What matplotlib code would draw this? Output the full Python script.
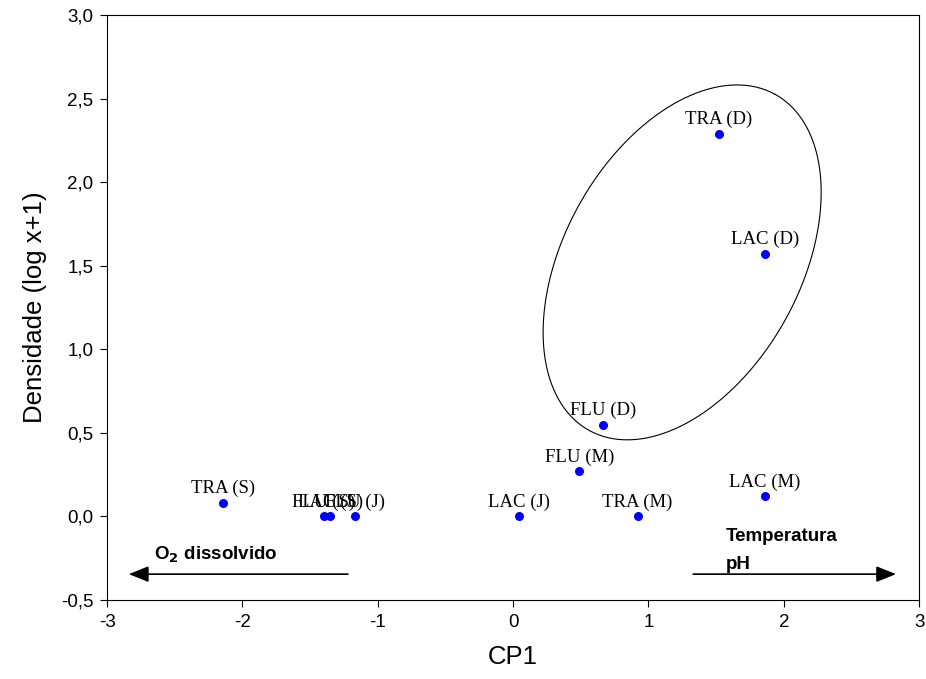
import numpy as np
import matplotlib.pyplot as plt

# Dados (CP1 x densidade)
rotulos = ["TRA (D)", "LAC (D)", "FLU (D)", "FLU (M)", "LAC (M)", "TRA (M)",
           "LAC (J)", "TRA (S)", "FLU (S)", "LAC (S)", "FLU (J)"]
cp1 = [1.52, 1.86, 0.665, 0.49, 1.86, 0.92, 0.045, -2.14, -1.40, -1.35, -1.17]
dens = [2.29, 1.57, 0.55, 0.27, 0.12, 0.0, 0.0, 0.08, 0.0, 0.0, 0.0]

yticks = [-0.5, 0.0, 0.5, 1.0, 1.5, 2.0, 2.5, 3.0]
xticks = [-3, -2, -1, 0, 1, 2, 3]

fig = plt.figure(figsize=(9.26, 6.79), dpi=100)
ax = fig.add_axes([0.1156, 0.1163, 0.877, 0.8616])

ax.plot(cp1, dens, 'o', color='#0000ff', markersize=6.5, markeredgewidth=0)
for r, x, y in zip(rotulos, cp1, dens):
    ax.annotate(r, (x, y), xytext=(0, 7), textcoords='offset points',
                ha='center', va='baseline', fontsize=13.5, family='Liberation Serif')

# elipse (em escala de pixels, convertida para dados)
t = np.linspace(0, 2 * np.pi, 300)
a, b, th = 192, 118, np.radians(61)
ex = a * np.cos(t) * np.cos(th) - b * np.sin(t) * np.sin(th)
ey = a * np.cos(t) * np.sin(th) + b * np.sin(t) * np.cos(th)
ax.plot(1.249 + ex / 135.3, 1.52 + ey / 167.1, color='black', lw=0.8)

# setas
estilo = dict(arrowstyle='-|>,head_length=0.55,head_width=0.22',
              color='black', lw=1.2, mutation_scale=22)
ax.annotate('', xy=(-2.86, -0.345), xytext=(-1.2, -0.345), arrowprops=estilo)
ax.annotate('', xy=(2.85, -0.345), xytext=(1.31, -0.345), arrowprops=estilo)
ax.text(-2.65, -0.23, r'O$_\mathbf{2}$ dissolvido', fontsize=13.5, fontweight='bold',
        family='Liberation Sans', va='center')
ax.text(1.57, -0.12, 'Temperatura', fontsize=13.5, fontweight='bold',
        family='Liberation Sans', va='center')
ax.text(1.57, -0.29, 'pH', fontsize=13.5, fontweight='bold',
        family='Liberation Sans', va='center')

ax.set_xlim(-3, 3)
ax.set_ylim(-0.5, 3.0)
ax.set_xticks(xticks)
ax.set_xticklabels([str(v) for v in xticks])
ax.set_yticks(yticks)
ax.set_yticklabels([f"{v:.1f}".replace('.', ',') for v in yticks])
ax.tick_params(direction='out', length=5, labelsize=13.5, pad=5)
for lab in ax.get_xticklabels() + ax.get_yticklabels():
    lab.set_family('Liberation Sans')

ax.set_xlabel('CP1', fontsize=18.5, family='Liberation Sans', labelpad=10)
ax.set_ylabel('Densidade (log x+1)', fontsize=18.5, family='Liberation Sans', labelpad=10)

fig.savefig('out.png', dpi=100)
